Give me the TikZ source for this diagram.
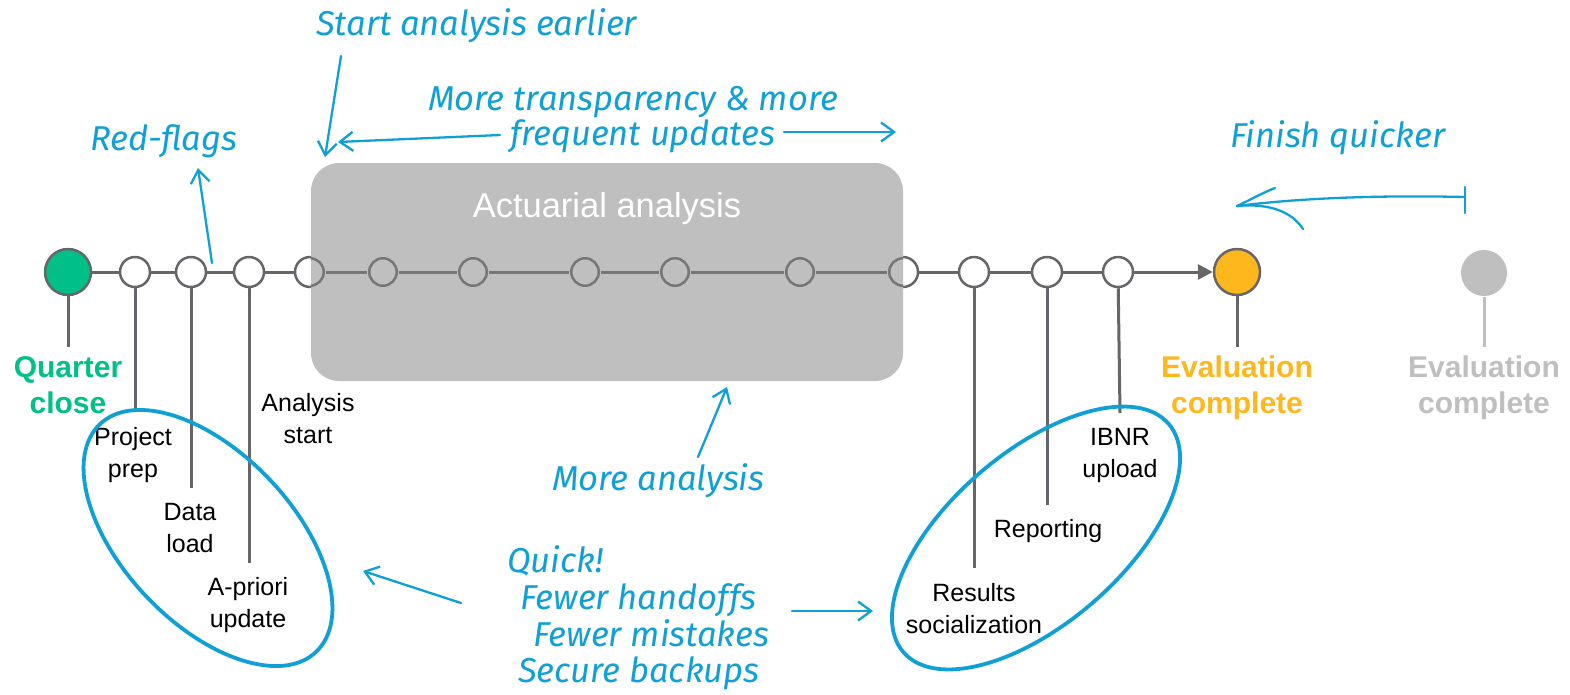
\documentclass[tikz,border=0pt]{standalone}
\usepackage{fontspec}
\setmainfont{Liberation Sans}
\newfontfamily\hand{Fira Sans Italic}
\usetikzlibrary{arrows.meta}

\definecolor{hblue}{RGB}{16,160,214}
\definecolor{qgreen}{RGB}{0,192,135}
\definecolor{eorange}{RGB}{254,184,30}
\definecolor{lgray}{RGB}{191,191,191}
\definecolor{linegray}{RGB}{102,102,106}
\definecolor{ingray}{RGB}{118,118,120}

\tikzset{
  tl/.style={draw=linegray, line width=3pt},
  tlin/.style={draw=ingray, line width=3pt},
  dot/.style={circle, draw=linegray, line width=2.5pt, fill=white, minimum size=30pt, inner sep=0pt},
  big/.style={circle, draw=linegray, line width=2.5pt, minimum size=46pt, inner sep=0pt},
  stem/.style={draw=linegray, line width=3pt},
  lbl/.style={align=center, font=\fontsize{25}{31.5}\selectfont, inner sep=0pt, anchor=base},
  endlbl/.style={align=center, font=\bfseries\fontsize{30}{36}\selectfont, inner sep=0pt, anchor=base},
  hnote/.style={text=hblue, font=\hand\fontsize{34.5}{40}\selectfont, inner sep=0pt, anchor=base west},
  note/.style={draw=hblue, line width=2.3pt, line cap=round, -{Straight Barb[length=13pt,width=19pt,line width=2.3pt]}},
  loop/.style={draw=hblue, line width=3.8pt},
  procbox/.style={rounded corners=28pt, fill=lgray, minimum width=592pt, minimum height=218pt, inner sep=0pt}
}

\begin{document}
\begin{tikzpicture}[x=1pt,y=-1pt]
\useasboundingbox (0,0) rectangle (1570,694);

% milestones on the timeline
\node[big, fill=qgreen] (q) at (68,272) {};
\foreach \x [count=\i] in {135,191,249,310,383,473,585,675,800,903,974,1047,1118}
  \node[dot] (c\i) at (\x,272) {};
\node[big, fill=eorange] (ev) at (1237,272) {};
\node[big, fill=lgray, draw=none] (ev2) at (1484,273) {};

% timeline segments
\foreach \a/\b in {q/c1,c1/c2,c2/c3,c3/c4,c4/c5,c5/c6,c6/c7,c7/c8,c8/c9,c9/c10,c10/c11,c11/c12,c12/c13}
  \draw[tl] (\a) -- (\b);
\draw[tl, -{Triangle[length=15pt,width=15pt]}] (c13) -- (ev);

% stems down to the labels
\coordinate (eq) at (68,347);
\coordinate (e1) at (135,409);
\coordinate (e2) at (191,488);
\coordinate (e3) at (249,563);
\coordinate (e11) at (974,568);
\coordinate (e12) at (1047,505);
\coordinate (e13) at (1120,413);
\coordinate (eev) at (1237,347);
\coordinate (eev2) at (1484,347);
\draw[stem] (q) -- (eq);
\draw[stem] (c1) -- (e1);
\draw[stem] (c2) -- (e2);
\draw[stem] (c3) -- (e3);
\draw[stem] (c11) -- (e11);
\draw[stem] (c12) -- (e12);
\draw[stem] (c13) -- (e13);
\draw[stem] (ev) -- (eev);
\draw[stem, draw=lgray] (ev2) -- (eev2);

% actuarial analysis block
\node[procbox] (box) at (607,272) {};
\begin{scope}
  \clip[rounded corners=28pt] (box.south west) rectangle (box.north east);
  \foreach \a/\b in {c4/c5,c5/c6,c6/c7,c7/c8,c8/c9,c9/c10,c10/c11}
    \draw[tlin] (\a) -- (\b);
  \foreach \i in {4,...,11}
    \draw[ingray, line width=2.5pt] (c\i.center) circle[radius=13.75pt];
\end{scope}
\node[font=\fontsize{34.5}{40}\selectfont, text=white, inner sep=0pt, anchor=base] (aa) at (607,217) {Actuarial analysis};

% milestone labels (anchored at the baseline of the last line)
\node[endlbl, text=qgreen] (lq) at (68,413) {Quarter\\close};
\node[endlbl, text=eorange] (lev) at (1237,413) {Evaluation\\complete};
\node[endlbl, text=lgray] (lev2) at (1484,413) {Evaluation\\complete};
\node[lbl] (l1) at (133,477) {Project\\prep};
\node[lbl] (l2) at (190,552) {Data\\load};
\node[lbl] (l3) at (248,627) {A-priori\\update};
\node[lbl] (l4) at (308,443) {Analysis\\start};
\node[lbl] (l11) at (974,633) {Results\\socialization};
\node[lbl] (l12) at (1048,537) {Reporting};
\node[lbl] (l13) at (1120,477) {IBNR\\upload};

% groups of steps
\draw[loop, rotate around={-46.5:(208,538)}] (208,538) ellipse [x radius=157pt, y radius=85pt];
\draw[loop, rotate around={40.7:(1036,538)}] (1036,538) ellipse [x radius=175pt, y radius=86pt];

% improvement notes
\node[hnote] (n1) at (316,35) {Start analysis earlier};
\node[hnote] (n2) at (428,110) {More transparency \& more};
\node[hnote] (n3) at (510,145) {frequent updates};
\node[hnote] (n4) at (90,150) {Red-flags};
\node[hnote] (n5) at (1230,147) {Finish quicker};
\node[hnote] (n6) at (552,490) {More analysis};
\node[hnote] (n7) at (507,572) {Quick!};
\node[hnote] (n8) at (520,609) {Fewer handoffs};
\node[hnote] (n9) at (533,646) {Fewer mistakes};
\node[hnote] (n10) at (518,682) {Secure backups};

\coordinate (s1) at (341,56);   \coordinate (s2) at (325,157);
\coordinate (t1) at (500,135);  \coordinate (t2) at (338,142);
\coordinate (t3) at (784,132);  \coordinate (t4) at (896,132);
\coordinate (r1) at (212,263);  \coordinate (r2) at (198,168);
\coordinate (m1) at (698,457);  \coordinate (m2) at (727,387);
\coordinate (k1) at (461,603);  \coordinate (k2) at (363,571);
\coordinate (k3) at (792,611);  \coordinate (k4) at (873,611);
\draw[note] (s1) -- (s2);
\draw[note] (t1) -- (t2);
\draw[note] (t3) -- (t4);
\draw[note] (r1) -- (r2);
\draw[note] (m1) -- (m2);
\draw[note] (k1) -- (k2);
\draw[note] (k3) -- (k4);

% finish quicker arrow
\coordinate (f1) at (1465,197);
\coordinate (f2) at (1237,206);
\coordinate (fa) at (1465,187);
\coordinate (fb) at (1465,213);
\coordinate (fu) at (1275,188);
\coordinate (fl) at (1303,229);
\draw[hblue, line width=2.3pt, line cap=round] (f1) .. controls (1380,195) and (1300,198) .. (f2);
\draw[hblue, line width=2.3pt, line cap=round] (fa) -- (fb);
\draw[hblue, line width=2.3pt, line cap=round] (f2) .. controls (1250,200) and (1262,193) .. (fu);
\draw[hblue, line width=2.3pt, line cap=round] (f2) .. controls (1270,203) and (1292,212) .. (fl);
\end{tikzpicture}
\end{document}
